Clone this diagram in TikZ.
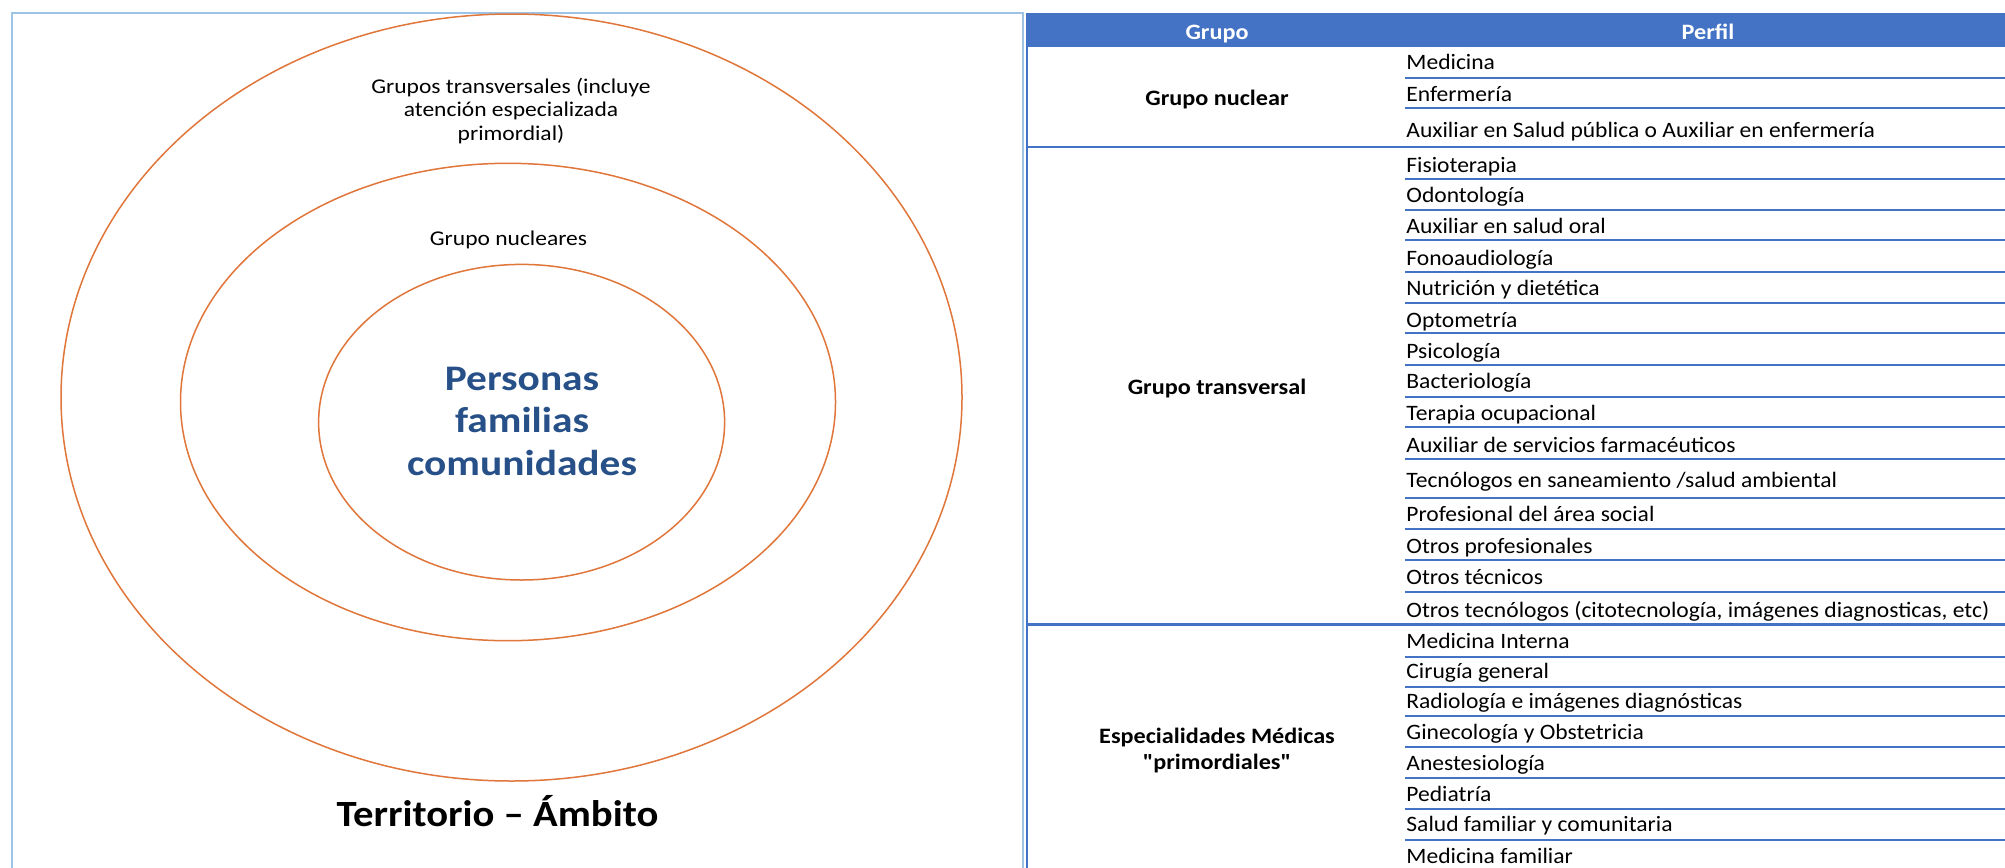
\documentclass[tikz,border=0pt]{standalone}
\usepackage{fontspec}
\setmainfont{Carlito}
\newfontfamily\rowfam[FakeStretch=1.07]{Carlito}
\newfontfamily\grpfam[FakeStretch=1.10]{Carlito}
\newfontfamily\smallfam[FakeStretch=1.12]{Carlito}
\newfontfamily\persfam[FakeStretch=1.15]{Carlito}
\newfontfamily\terrfam[FakeStretch=1.10]{Carlito}
\definecolor{ringc}{HTML}{E0763A}
\definecolor{lbox}{HTML}{9DC3E6}
\definecolor{tblue}{HTML}{4472C4}
\definecolor{persc}{RGB}{38,80,135}
\begin{document}
\begin{tikzpicture}[x=0.5pt,y=-0.5pt,
  ring/.style={draw=ringc, line width=0.75pt},
  smalltxt/.style={anchor=base, inner sep=0pt, font=\smallfam\fontsize{10.5}{12}\selectfont},
  bigtxt/.style={anchor=base, inner sep=0pt, text=persc, font=\persfam\bfseries\fontsize{18}{21}\selectfont},
  rowtxt/.style={anchor=base west, inner sep=0pt, font=\rowfam\fontsize{11}{13}\selectfont},
  grptxt/.style={anchor=base, inner sep=0pt, font=\grpfam\bfseries\fontsize{11}{13}\selectfont},
  headtxt/.style={anchor=base, inner sep=0pt, text=white, font=\grpfam\bfseries\fontsize{11}{13}\selectfont},
  rowline/.style={draw=tblue, line width=1pt},
  grpline/.style={draw=tblue, line width=1.2pt}]
\useasboundingbox (0,0) rectangle (2005,867);
\clip (0,0) rectangle (2005,867);
\fill[white] (0,0) rectangle (2005,867);
% ---------- left panel ----------
\draw[draw=lbox, line width=1pt] (12,13) rectangle (1023,900);
\draw[ring] (511.5,397.5) ellipse [x radius=225.25pt, y radius=191.75pt];
\draw[ring] (508,402) ellipse [x radius=163.75pt, y radius=119.35pt];
\draw[ring] (521.6,422.2) ellipse [x radius=101.5pt, y radius=78.9pt];
\node[smalltxt] (tr1) at (511,93.3) {Grupos transversales (incluye};
\node[smalltxt] (tr2) at (511,116.7) {atención especializada};
\node[smalltxt] (tr3) at (511,140) {primordial)};
\node[smalltxt] (nuc) at (508.5,245) {Grupo nucleares};
\node[bigtxt] (p1) at (522,390) {Personas};
\node[bigtxt] (p2) at (522,432.5) {familias};
\node[bigtxt] (p3) at (522,475) {comunidades};
\node[anchor=base, inner sep=0pt, font=\terrfam\bfseries\fontsize{18.5}{22}\selectfont] (terr) at (497.5,826.7) {Territorio – Ámbito};
% ---------- table ----------
\fill[tblue] (1027,13.3) rectangle (2005,46.7);
\node[headtxt] (hg) at (1217,39.3) {Grupo};
\node[headtxt] (hp) at (1708,39.3) {Perfil};
\draw[draw=tblue, line width=1pt] (1027,13) -- (1027,900);
\draw[grpline] (1027,146.7) -- (2005,146.7);
\draw[grpline] (1027,624.3) -- (2005,624.3);
\foreach \yy in {77.7,107.7,179,210,240,271.7,303.3,333.3,365,396.7,426.7,459,498.3,529.3,560,591.7,656.7,686.7,716,746.7,778.3,809.3,840}
  {\draw[rowline] (1405,\yy) -- (2005,\yy);}
\node[grptxt] (g1) at (1217,105) {Grupo nuclear};
\node[grptxt] (g2) at (1217,394) {Grupo transversal};
\node[grptxt] (g3a) at (1217,743) {Especialidades Médicas};
\node[grptxt] (g3b) at (1217,769) {\symbol{34}primordiales\symbol{34}};
\node[rowtxt] (r1) at (1406,69.3) {Medicina};
\node[rowtxt] (r2) at (1406,101.3) {Enfermería};
\node[rowtxt] (r3) at (1406,137) {Auxiliar en Salud pública o Auxiliar en enfermería};
\node[rowtxt] (r4) at (1406,172.7) {Fisioterapia};
\node[rowtxt] (r5) at (1406,202.7) {Odontología};
\node[rowtxt] (r6) at (1406,233.7) {Auxiliar en salud oral};
\node[rowtxt] (r7) at (1406,265.3) {Fonoaudiología};
\node[rowtxt] (r8) at (1406,295.3) {Nutrición y dietética};
\node[rowtxt] (r9) at (1406,327) {Optometría};
\node[rowtxt] (r10) at (1406,358.7) {Psicología};
\node[rowtxt] (r11) at (1406,388.7) {Bacteriología};
\node[rowtxt] (r12) at (1406,420.3) {Terapia ocupacional};
\node[rowtxt] (r13) at (1406,452) {Auxiliar de servicios farmacéuticos};
\node[rowtxt] (r14) at (1406,487.7) {Tecnólogos en saneamiento /salud ambiental};
\node[rowtxt] (r15) at (1406,521.3) {Profesional del área social};
\node[rowtxt] (r16) at (1406,553) {Otros profesionales};
\node[rowtxt] (r17) at (1406,584.3) {Otros técnicos};
\node[rowtxt] (r18) at (1406,617) {Otros tecnólogos (citotecnología, imágenes diagnosticas, etc)};
\node[rowtxt] (r19) at (1406,648) {Medicina Interna};
\node[rowtxt] (r20) at (1406,678.7) {Cirugía general};
\node[rowtxt] (r21) at (1406,708.7) {Radiología e imágenes diagnósticas};
\node[rowtxt] (r22) at (1406,739.7) {Ginecología y Obstetricia};
\node[rowtxt] (r23) at (1406,770.3) {Anestesiología};
\node[rowtxt] (r24) at (1406,801) {Pediatría};
\node[rowtxt] (r25) at (1406,831.3) {Salud familiar y comunitaria};
\node[rowtxt] (r26) at (1406,863) {Medicina familiar};
\end{tikzpicture}
\end{document}
